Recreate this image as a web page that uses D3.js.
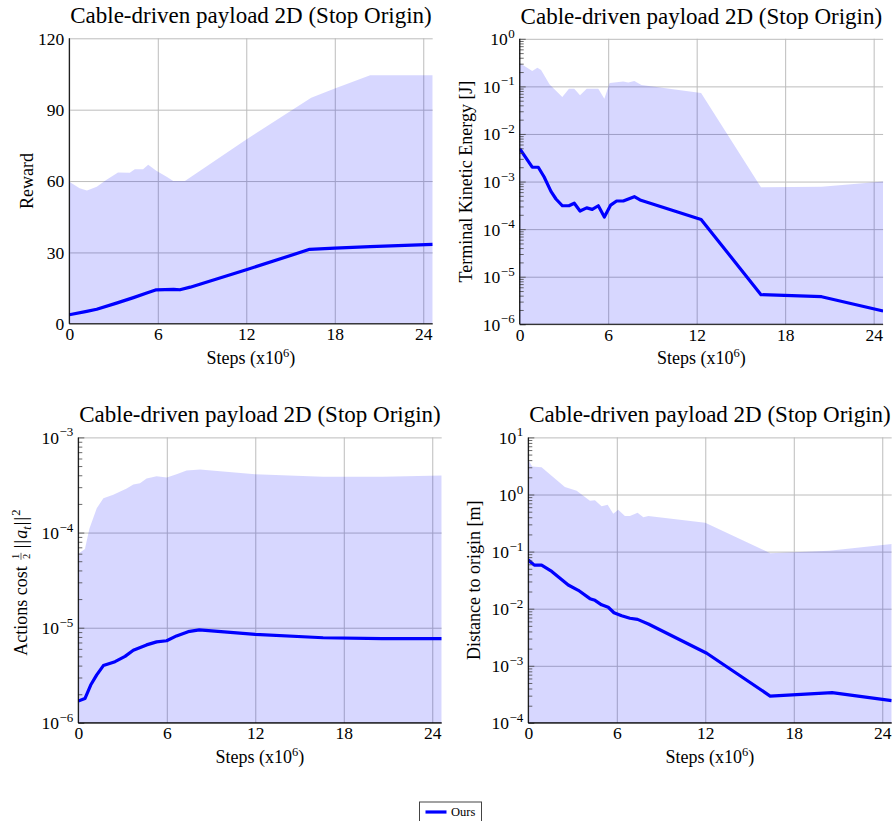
<!DOCTYPE html>
<html>
<head>
<meta charset="utf-8">
<script src="https://cdn.jsdelivr.net/npm/d3@7"></script>
<style>
  html, body { margin: 0; padding: 0; background: #fff; }
  svg { display: block; }
  text { font-family: "Liberation Serif", "DejaVu Serif", serif; fill: #000; }
</style>
</head>
<body>
<svg id="chart" width="893" height="821"></svg>
<script>
// ---------------- DATA ----------------
const titleText = "Cable-driven payload 2D (Stop Origin)";
const xTicks = [0, 6, 12, 18, 24];
const xMax = 24.64;
const legendLabels = ["Ours"];

// Panel 1: Reward
const rewardTicks = [0, 30, 60, 90, 120];
const rewardSteps = [0, 1.18, 1.86, 3.2, 4.35, 5.25, 5.9, 7.07, 7.5, 8.2, 12, 16.3, 18, 20.4, 24.64];
const rewardMean  = [3.8, 5.2, 6.1, 8.7, 11, 12.9, 14.3, 14.5, 14.3, 15.4, 22.7, 31.3, 31.8, 32.4, 33.4];
const rewardUpperSteps = [0, 0.7, 1.2, 1.86, 2.5, 3.3, 4.1, 4.44, 5.0, 5.35, 5.9, 6.6, 7.05, 7.84, 12, 16.4, 18, 20.4, 24.64];
const rewardUpper = [59.7, 57, 56, 57.6, 60.4, 63.6, 63.5, 65, 65, 66.9, 64.3, 61.8, 60, 60, 77.5, 95, 98.9, 104.5, 104.5];

// Panel 2: Terminal kinetic energy
const energyTickExps = [0, -1, -2, -3, -4, -5, -6];
const energySteps = [0, 0.85, 1.26, 1.65, 2.12, 2.46, 2.89, 3.34, 3.7, 4.09, 4.54, 4.92, 5.33, 5.74, 6.17, 6.57, 7.02, 7.77, 8.16, 12.3, 16.36, 20.47, 24.64];
const energyMean  = [4.9e-3, 2.0e-3, 2.0e-3, 1.26e-3, 6.2e-4, 4.3e-4, 3.1e-4, 3.1e-4, 3.5e-4, 2.4e-4, 2.8e-4, 2.6e-4, 3.1e-4, 1.8e-4, 3.2e-4, 3.9e-4, 3.9e-4, 4.8e-4, 4.1e-4, 1.6e-4, 4.2e-6, 3.8e-6, 1.9e-6];
const energyUpperSteps = [0, 0.85, 1.2, 1.45, 2.03, 2.89, 3.34, 3.7, 4.09, 4.54, 5.33, 5.74, 6.1, 7.02, 7.36, 7.77, 8.26, 12.3, 16.36, 20.47, 24.64];
const energyUpper = [0.31, 0.21, 0.245, 0.22, 0.11, 0.06, 0.089, 0.089, 0.065, 0.089, 0.089, 0.055, 0.118, 0.126, 0.12, 0.13, 0.107, 0.073, 7.6e-4, 7.8e-4, 1.0e-3];

// Panel 3: Actions cost
const actionTickExps = [-3, -4, -5, -6];
const actionSteps = [0, 0.45, 0.84, 1.25, 1.7, 2.49, 3.17, 3.73, 4.63, 5.31, 5.99, 6.66, 7.45, 8.2, 12.0, 16.6, 20.6, 24.64];
const actionMean  = [1.7e-6, 1.8e-6, 2.5e-6, 3.2e-6, 4.0e-6, 4.4e-6, 5.0e-6, 5.8e-6, 6.6e-6, 7.1e-6, 7.3e-6, 8.2e-6, 9.1e-6, 9.5e-6, 8.5e-6, 7.85e-6, 7.7e-6, 7.7e-6];
const actionUpperSteps = [0, 0.45, 0.75, 1.25, 1.7, 2.37, 3.28, 3.73, 4.18, 4.63, 5.31, 6.0, 6.66, 7.34, 8.25, 12.0, 16.6, 20.6, 24.64];
const actionUpper = [6.0e-5, 6.7e-5, 1.1e-4, 1.8e-4, 2.3e-4, 2.5e-4, 2.9e-4, 3.2e-4, 3.3e-4, 3.7e-4, 3.9e-4, 3.8e-4, 4.1e-4, 4.5e-4, 4.6e-4, 4.1e-4, 3.85e-4, 3.85e-4, 3.98e-4];

// Panel 4: Distance to origin
const distTickExps = [1, 0, -1, -2, -3, -4];
const distSteps = [0, 0.41, 0.9, 1.59, 2.71, 3.39, 4.18, 4.52, 4.97, 5.42, 5.81, 6.33, 6.89, 7.41, 8.14, 12.1, 16.4, 20.6, 24.64];
const distMean  = [0.071, 0.058, 0.058, 0.045, 0.026, 0.021, 0.015, 0.014, 0.0117, 0.0106, 0.0085, 0.0075, 0.0068, 0.0065, 0.0054, 0.00166, 2.95e-4, 3.4e-4, 2.45e-4];
const distUpperSteps = [0, 0.27, 0.9, 2.48, 3.28, 4.18, 4.52, 4.97, 5.38, 5.76, 6.1, 6.55, 6.89, 7.41, 7.8, 8.14, 12.0, 16.4, 20.4, 24.64];
const distUpper = [4.0, 3.1, 3.0, 1.35, 1.16, 0.78, 0.79, 0.62, 0.66, 0.46, 0.54, 0.42, 0.42, 0.48, 0.40, 0.42, 0.32, 0.094, 0.103, 0.136];

// ---------------- DRAWING ----------------
const svg = d3.select("#chart");
const BLUE = "#0000ff";
const GRID = "#bcbcbc";
const W = 363.4, H = 285.5;

const panels = [
  { id: 0, left: 69.3, top: 38.3, log: false, domain: [0, 120], ticks: rewardTicks,
    steps: rewardSteps, mean: rewardMean, upSteps: rewardUpperSteps, upper: rewardUpper,
    ylabel: "Reward", ylabelX: 33 },
  { id: 1, left: 519.7, top: 38.8, log: true, domain: [1e-6, 1], ticks: energyTickExps,
    steps: energySteps, mean: energyMean, upSteps: energyUpperSteps, upper: energyUpper,
    ylabel: "Terminal Kinetic Energy [J]", ylabelX: 471.5 },
  { id: 2, left: 78.3, top: 437.4, log: true, domain: [1e-6, 1e-3], ticks: actionTickExps,
    steps: actionSteps, mean: actionMean, upSteps: actionUpperSteps, upper: actionUpper,
    ylabel: null, ylabelX: 27 },
  { id: 3, left: 528.3, top: 437.4, log: true, domain: [1e-4, 10], ticks: distTickExps,
    steps: distSteps, mean: distMean, upSteps: distUpperSteps, upper: distUpper,
    ylabel: "Distance to origin [m]", ylabelX: 479.5 }
];

const defs = svg.append("defs");

panels.forEach(p => {
  const g = svg.append("g").attr("transform", `translate(${p.left},${p.top})`);
  const x = d3.scaleLinear().domain([0, xMax]).range([0, W]);
  const y = p.log ? d3.scaleLog().domain(p.domain).range([H, 0])
                  : d3.scaleLinear().domain(p.domain).range([H, 0]);
  const majorVals = p.log ? p.ticks.map(e => Math.pow(10, e)) : p.ticks;

  defs.append("clipPath").attr("id", "clip" + p.id)
    .append("rect").attr("x", 0).attr("y", 0).attr("width", W).attr("height", H);

  // grid
  const gx = g.append("g").attr("transform", `translate(0,${H})`)
    .call(d3.axisBottom(x).tickValues(xTicks).tickSize(-H).tickFormat(""));
  gx.select(".domain").remove();
  gx.selectAll("line").attr("stroke", GRID).attr("stroke-width", 1);
  const gy = g.append("g")
    .call(d3.axisLeft(y).tickValues(majorVals).tickSize(-W).tickFormat(""));
  gy.select(".domain").remove();
  gy.selectAll("line").attr("stroke", GRID).attr("stroke-width", 1);

  // band
  const plot = g.append("g").attr("clip-path", `url(#clip${p.id})`);
  const upperPts = p.upSteps.map((s, i) => [s, p.upper[i]]);
  const area = d3.area().x(d => x(d[0])).y0(H).y1(d => y(d[1]));
  plot.append("path").datum(upperPts).attr("d", area)
    .attr("fill", BLUE).attr("fill-opacity", 0.155).attr("stroke", "none");

  // mean line
  const meanPts = p.steps.map((s, i) => [s, p.mean[i]]);
  const line = d3.line().x(d => x(d[0])).y(d => y(d[1]));
  plot.append("path").datum(meanPts).attr("d", line)
    .attr("fill", "none").attr("stroke", BLUE).attr("stroke-width", 3.2)
    .attr("stroke-linejoin", "round");

  // minor ticks (log axes)
  if (p.log) {
    const minors = [];
    const e0 = Math.log10(p.domain[0]), e1 = Math.log10(p.domain[1]);
    for (let e = e0; e < e1; e++) for (let k = 2; k <= 9; k++) minors.push(k * Math.pow(10, e));
    const mt = g.append("g").call(d3.axisLeft(y).tickValues(minors).tickSize(-4).tickFormat(""));
    mt.select(".domain").remove();
    mt.selectAll("line").attr("stroke", "#444").attr("stroke-width", 0.8);
    const Mt = g.append("g").call(d3.axisLeft(y).tickValues(majorVals).tickSize(-6).tickFormat(""));
    Mt.select(".domain").remove();
    Mt.selectAll("line").attr("stroke", "#444").attr("stroke-width", 0.8);
  }

  // axis lines
  g.append("line").attr("x1", 0).attr("x2", 0).attr("y1", 0).attr("y2", H)
    .attr("stroke", "#000").attr("stroke-width", 1.1);
  g.append("line").attr("x1", 0).attr("x2", W).attr("y1", H).attr("y2", H)
    .attr("stroke", "#000").attr("stroke-width", 1.1);

  // x tick labels
  const xl = g.append("g").attr("transform", `translate(0,${H})`)
    .call(d3.axisBottom(x).tickValues(xTicks).tickSize(0).tickPadding(0));
  xl.select(".domain").remove();
  xl.selectAll("text").attr("font-size", 17.5).attr("dy", null).attr("y", 16.5)
    .attr("font-family", "Liberation Serif").attr("fill", "#000");

  // y tick labels
  if (!p.log) {
    const yl = g.append("g").call(d3.axisLeft(y).tickValues(majorVals).tickSize(0).tickPadding(5));
    yl.select(".domain").remove();
    yl.selectAll("text").attr("font-size", 17.5).attr("dy", "0.33em")
      .attr("font-family", "Liberation Serif").attr("fill", "#000");
  } else {
    const yl = g.append("g").call(d3.axisLeft(y).tickValues(majorVals).tickSize(0).tickFormat(""));
    yl.select(".domain").remove();
    yl.selectAll(".tick").each(function(d) {
      const e = Math.round(Math.log10(d));
      const t = d3.select(this).append("text").attr("x", -5).attr("y", 6)
        .attr("text-anchor", "end").attr("font-size", 17.5)
        .attr("font-family", "Liberation Serif").attr("fill", "#000");
      t.append("tspan").text("10");
      t.append("tspan").attr("font-size", 13).attr("dy", -7.5).attr("dx", 0.5)
        .text(e < 0 ? "\u2212" + (-e) : String(e));
    });
  }

  // title
  g.append("text").attr("x", W / 2).attr("y", -15).attr("text-anchor", "middle")
    .attr("font-size", 23).text(titleText);

  // x label
  const xt = g.append("text").attr("x", W / 2).attr("y", H + 40).attr("text-anchor", "middle")
    .attr("font-size", 18);
  xt.append("tspan").text("Steps (x10");
  xt.append("tspan").attr("font-size", 12.5).attr("dy", -7).text("6");
  xt.append("tspan").attr("dy", 7).text(")");

  // y label
  const cy = p.top + H / 2;
  if (p.ylabel) {
    svg.append("text").attr("transform", `translate(${p.ylabelX},${cy}) rotate(-90)`)
      .attr("text-anchor", "middle").attr("font-size", 18).text(p.ylabel);
  } else {
    // Actions cost ½||a_t||²
    const lg = svg.append("g");
    const t1 = lg.append("text").attr("font-size", 18).text("Actions cost");
    const w1 = t1.node().getComputedTextLength();
    const gap = 5, fw = 10, gap2 = 3;
    const fr1 = lg.append("text").attr("font-size", 10.5).attr("text-anchor", "middle").text("1");
    const fr2 = lg.append("text").attr("font-size", 10.5).attr("text-anchor", "middle").text("2");
    const t2 = lg.append("text").attr("font-size", 18);
    t2.append("tspan").attr("letter-spacing", 1.2).text("||");
    t2.append("tspan").attr("font-style", "italic").text("a");
    t2.append("tspan").attr("font-style", "italic").attr("font-size", 12).attr("dy", 4).text("t");
    t2.append("tspan").attr("dy", -4).attr("dx", 1).attr("letter-spacing", 1.2).text("||");
    t2.append("tspan").attr("font-size", 12.5).attr("dy", -7).text("2");
    const w2 = t2.node().getComputedTextLength() + 6;
    const total = w1 + gap + fw + gap2 + w2;
    const x0 = -total / 2;
    t1.attr("x", x0).attr("y", 0);
    const fc = x0 + w1 + gap + fw / 2;
    fr1.attr("x", fc).attr("y", -8);
    lg.append("line").attr("x1", fc - 3.5).attr("x2", fc + 3.5)
      .attr("y1", -6).attr("y2", -6).attr("stroke", "#000").attr("stroke-width", 0.6);
    fr2.attr("x", fc).attr("y", 2.5);
    t2.attr("x", x0 + w1 + gap + fw + gap2).attr("y", 0);
    lg.attr("transform", `translate(${p.ylabelX},${cy}) rotate(-90)`);
  }
});

// legend
const lgd = svg.append("g").attr("transform", "translate(419.5,802)");
lgd.append("rect").attr("x", 0).attr("y", 0).attr("width", 62).attr("height", 26)
  .attr("fill", "#fff").attr("stroke", "#444").attr("stroke-width", 1);
lgd.append("line").attr("x1", 6).attr("x2", 27).attr("y1", 10).attr("y2", 10)
  .attr("stroke", BLUE).attr("stroke-width", 3.2);
lgd.append("text").attr("x", 31.5).attr("y", 14).attr("font-size", 12.5).text(legendLabels[0]);
</script>
</body>
</html>
